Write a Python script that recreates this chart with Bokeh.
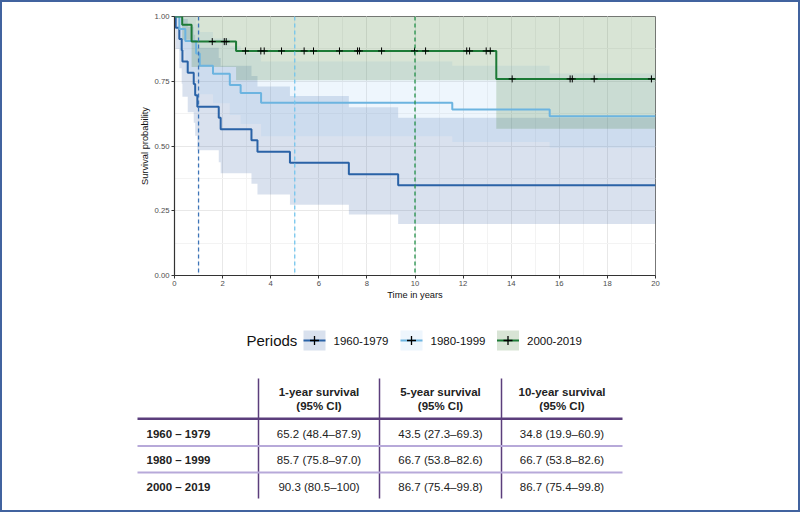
from bokeh.plotting import figure
from bokeh.layouts import column
from bokeh.models import Range1d, FixedTicker, SingleIntervalTicker, NumeralTickFormatter, Span
from bokeh.embed import file_html
from bokeh.resources import INLINE
from bokeh.core.properties import value

FONT = "Liberation Sans"

# ---------------- data ----------------
periods = ["1960-1979", "1980-1999", "2000-2019"]

t_1960 = [0, 0.05, 0.2, 0.3, 0.33, 0.55, 0.8, 0.86, 0.95, 1.84, 1.92, 3.2, 3.45, 4.8, 7.25, 9.3]
s_1960 = [1, .957, .913, .870, .826, .783, .739, .696, .652, .609, .565, .522, .478, .435, .391, .348]
lo_1960 = [1, .875, .80, .74, .69, .63, .59, .54, .484, .437, .395, .354, .313, .273, .236, .199]
up_1960 = [1, 1, 1, 1, .99, .96, .93, .90, .879, .84, .81, .77, .73, .693, .65, .609]

t_1980 = [0, 0.2, 0.45, 0.9, 1.05, 1.6, 2.3, 2.75, 3.6, 11.55, 15.6]
s_1980 = [1, .952, .905, .857, .81, .779, .736, .705, .667, .641, .615]
lo_1980 = [1, .866, .785, .758, .70, .665, .62, .585, .538, .515, .493]
up_1980 = [1, 1, 1, .97, .94, .915, .885, .86, .826, .81, .78]

t_2000 = [0, 0.32, 0.71, 2.56, 13.38]
s_2000 = [1, .968, .903, .867, .759]
lo_2000 = [1, .91, .805, .754, .567]
up_2000 = [1, 1, 1, 1, 1]

censor_2000 = [1.57, 2.07, 2.15, 2.95, 3.59, 3.73, 4.45, 5.39, 5.78, 6.86, 7.61, 7.69,
               8.61, 9.98, 10.44, 12.15, 12.27, 12.96, 13.13, 14.04, 16.45, 16.54, 17.45, 19.83]

landmarks = [1, 5, 10]

table_rows = ["1960 \u2013 1979", "1980 \u2013 1999", "2000 \u2013 2019"]
table_head1 = ["1-year survival", "5-year survival", "10-year survival"]
table_head2 = ["(95% CI)", "(95% CI)", "(95% CI)"]
surv_1y = ["65.2 (48.4\u201387.9)", "85.7 (75.8\u201397.0)", "90.3 (80.5\u2013100)"]
surv_5y = ["43.5 (27.3\u201369.3)", "66.7 (53.8\u201382.6)", "86.7 (75.4\u201399.8)"]
surv_10y = ["34.8 (19.9\u201360.9)", "66.7 (53.8\u201382.6)", "86.7 (75.4\u201399.8)"]

# ---------------- styles ----------------
line_cols = ["#2a62a6", "#6cb4e0", "#1c7a36"]
band_cols = ["#2c5aa0", "#8ec4f0", "#3d7a2e"]
band_alpha = [0.18, 0.15, 0.2]
vline_cols = ["#3d74b8", "#74c6ee", "#22914a"]
END = 20

def ext(t, v):
    return list(t) + [END], list(v) + [v[-1]]

def step_at(t, s, x):
    val = s[0]
    for ti, si in zip(t, s):
        if ti <= x:
            val = si
    return val

p = figure(frame_width=481, frame_height=259, min_border_left=172, min_border_right=143,
           min_border_top=14, min_border_bottom=28,
           x_range=Range1d(0, 20), y_range=Range1d(0, 1),
           output_backend="svg", toolbar_location=None)
p.frame_align = False
p.background_fill_color = "white"
p.border_fill_color = "white"
p.outline_line_color = "#777777"
p.outline_line_width = 1

groups = [(t_1960, s_1960, lo_1960, up_1960), (t_1980, s_1980, lo_1980, up_1980),
          (t_2000, s_2000, lo_2000, up_2000)]

for i, (t, s, lo, up) in enumerate(groups):
    x, y1 = ext(t, lo)
    _, y2 = ext(t, up)
    p.varea_step(x=x, y1=y1, y2=y2, step_mode="after", fill_color=band_cols[i], fill_alpha=band_alpha[i])

for i, loc in enumerate(landmarks):
    p.add_layout(Span(location=loc, dimension="height", line_color=vline_cols[i],
                      line_dash="4 3", line_width=1.3))

for i, (t, s, lo, up) in enumerate(groups):
    x, y = ext(t, s)
    p.step(x=x, y=y, mode="after", line_color=line_cols[i], line_width=2)

cy = [step_at(t_2000, s_2000, c) for c in censor_2000]
p.scatter(x=censor_2000, y=cy, marker="cross", size=7, line_color="black", line_width=1)

p.xaxis.ticker = SingleIntervalTicker(interval=2, num_minor_ticks=2)
p.yaxis.ticker = FixedTicker(ticks=[0, 0.25, 0.5, 0.75, 1.0], minor_ticks=[0.125, 0.375, 0.625, 0.875])
p.yaxis.formatter = NumeralTickFormatter(format="0.00")
p.xaxis.axis_label = "Time in years"
p.yaxis.axis_label = "Survival probability"
for ax in (p.xaxis[0], p.yaxis[0]):
    ax.axis_line_color = "#333333"
    ax.axis_line_width = 1.2
    ax.major_tick_line_color = "#333333"
    ax.major_tick_out = 3
    ax.major_tick_in = 0
    ax.minor_tick_out = 0
    ax.minor_tick_in = 0
    ax.major_label_text_font = FONT
    ax.major_label_text_font_size = "7.7px"
    ax.major_label_text_color = "#4d4d4d"
    ax.major_label_standoff = 2
    ax.axis_label_text_font = FONT
    ax.axis_label_text_font_size = "9.3px"
    ax.axis_label_text_font_style = "normal"
    ax.axis_label_text_color = "#111111"
p.xaxis[0].axis_label_standoff = 1
p.yaxis[0].axis_label_standoff = 2
for g in (p.xgrid[0], p.ygrid[0]):
    g.grid_line_color = "#e8e8e8"
    g.grid_line_width = 1
    g.minor_grid_line_color = "#f3f3f3"
    g.minor_grid_line_width = 1

# ---------------- bottom: legend + table ----------------
pb = figure(frame_width=796, frame_height=207, x_range=Range1d(2, 798), y_range=Range1d(510, 303),
            output_backend="svg", toolbar_location=None, min_border=0,
            x_axis_location=None, y_axis_location=None)
pb.frame_align = False
pb.grid.visible = False
pb.outline_line_color = None
pb.background_fill_color = "white"
pb.border_fill_color = "white"

LEG_Y = 340
key_x = [314, 411, 507.5]
pb.text(x=[246], y=[LEG_Y], text=["Periods"], text_font=value(FONT), text_font_size="15px",
        text_baseline="middle", text_color="#111111")
for i in range(3):
    pb.rect(x=[key_x[i]], y=[LEG_Y], width=22, height=20, fill_color=band_cols[i],
            fill_alpha=band_alpha[i], line_color=None)
    pb.segment(x0=[key_x[i] - 11], x1=[key_x[i] + 11], y0=[LEG_Y], y1=[LEG_Y],
               line_color=line_cols[i], line_width=2)
    pb.scatter(x=[key_x[i]], y=[LEG_Y], marker="cross", size=9, line_color="black", line_width=1.3)
    pb.text(x=[key_x[i] + 19], y=[LEG_Y], text=[periods[i]], text_font=value(FONT),
            text_font_size="11.5px", text_baseline="middle", text_color="#111111")

# table geometry
col_edges = [137, 258, 379, 501, 622]
col_centers = [(col_edges[j + 1] + col_edges[j + 2]) / 2 for j in range(3)]
head_y1, head_y2 = 391, 405.5
row_y = [433, 459.5, 486]
sep_y = [418.3, 445.5, 472]
TAB_TOP, TAB_BOT = 378, 498

pb.segment(x0=col_edges[1:4], x1=col_edges[1:4], y0=[TAB_TOP] * 3, y1=[TAB_BOT] * 3,
           line_color="#5b3e7c", line_width=1.5)
pb.segment(x0=[col_edges[0]], x1=[col_edges[-1]], y0=[sep_y[0]], y1=[sep_y[0]],
           line_color="#5b3e7c", line_width=2.5)
pb.segment(x0=[col_edges[0]] * 2, x1=[col_edges[-1]] * 2, y0=sep_y[1:], y1=sep_y[1:],
           line_color="#b7a9d9", line_width=2)

pb.text(x=col_centers, y=[head_y1] * 3, text=table_head1, text_font=value(FONT),
        text_font_size="11.5px", text_font_style="bold", text_align="center",
        text_baseline="middle", text_color="#222222")
pb.text(x=col_centers, y=[head_y2] * 3, text=table_head2, text_font=value(FONT),
        text_font_size="11.5px", text_font_style="bold", text_align="center",
        text_baseline="middle", text_color="#222222")
pb.text(x=[146] * 3, y=row_y, text=table_rows, text_font=value(FONT),
        text_font_size="11.5px", text_font_style="bold", text_baseline="middle",
        text_color="#222222")
for j, vals in enumerate([surv_1y, surv_5y, surv_10y]):
    pb.text(x=[col_centers[j]] * 3, y=row_y, text=vals, text_font=value(FONT),
            text_font_size="11.5px", text_align="center", text_baseline="middle",
            text_color="#222222")

layout = column(p, pb, spacing=0, styles={"border": "2px solid #41639f"})

open("out.html", "w").write(file_html(layout, INLINE))
